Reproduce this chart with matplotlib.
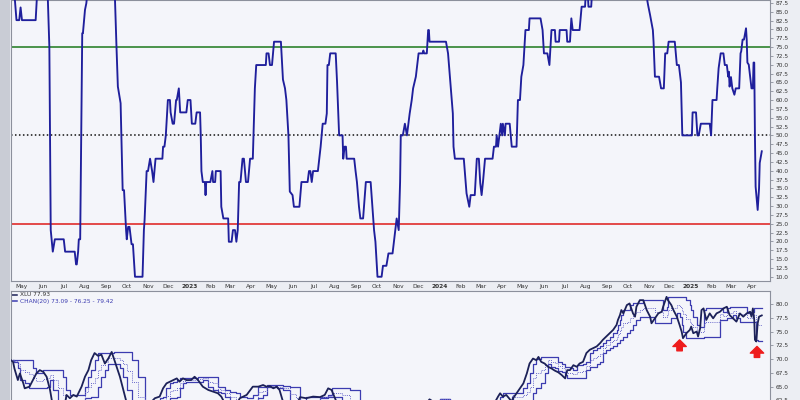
import matplotlib
matplotlib.use('Agg')
import matplotlib.pyplot as plt
import numpy as np
import pandas as pd
from matplotlib.patches import Rectangle
from matplotlib.ticker import FormatStrFormatter

# top panel: % indicator (>88 are clipped at top)
top_dates = [
    '2022-04-20', '2022-04-23', '2022-04-27', '2022-04-29', '2022-05-01', '2022-05-21', '2022-05-24', '2022-06-07',
    '2022-06-10', '2022-06-11', '2022-06-12', '2022-06-15', '2022-06-18', '2022-07-01', '2022-07-03', '2022-07-17',
    '2022-07-19', '2022-07-20', '2022-07-22', '2022-07-23', '2022-07-25', '2022-07-28', '2022-07-29', '2022-08-01',
    '2022-08-03', '2022-08-06', '2022-09-13', '2022-09-16', '2022-09-18', '2022-09-22', '2022-09-25', '2022-09-27',
    '2022-09-30', '2022-10-01', '2022-10-03', '2022-10-05', '2022-10-08', '2022-10-10', '2022-10-13', '2022-10-24',
    '2022-10-26', '2022-10-27', '2022-10-30', '2022-11-01', '2022-11-04', '2022-11-07', '2022-11-09', '2022-11-12',
    '2022-11-22', '2022-11-23', '2022-11-25', '2022-11-27', '2022-11-30', '2022-12-03', '2022-12-04', '2022-12-07',
    '2022-12-09', '2022-12-12', '2022-12-13', '2022-12-16', '2022-12-18', '2022-12-27', '2022-12-29', '2023-01-02',
    '2023-01-04', '2023-01-09', '2023-01-11', '2023-01-16', '2023-01-17', '2023-01-18', '2023-01-20', '2023-01-23',
    '2023-01-24', '2023-01-25', '2023-01-31', '2023-02-03', '2023-02-04', '2023-02-07', '2023-02-08', '2023-02-15',
    '2023-02-16', '2023-02-19', '2023-02-26', '2023-02-27', '2023-03-03', '2023-03-05', '2023-03-08', '2023-03-10',
    '2023-03-12', '2023-03-14', '2023-03-16', '2023-03-19', '2023-03-21', '2023-03-24', '2023-03-27', '2023-03-30',
    '2023-04-03', '2023-04-04', '2023-04-06', '2023-04-08', '2023-04-22', '2023-04-23', '2023-04-26', '2023-04-28',
    '2023-05-01', '2023-05-04', '2023-05-14', '2023-05-17', '2023-05-20', '2023-05-22', '2023-05-25', '2023-05-27',
    '2023-05-31', '2023-06-02', '2023-06-10', '2023-06-13', '2023-06-22', '2023-06-24', '2023-06-26', '2023-06-28',
    '2023-06-30', '2023-07-07', '2023-07-09', '2023-07-11', '2023-07-14', '2023-07-18', '2023-07-20', '2023-07-21',
    '2023-07-23', '2023-07-25', '2023-08-02', '2023-08-04', '2023-08-07', '2023-08-12', '2023-08-13', '2023-08-15',
    '2023-08-17', '2023-08-18', '2023-08-29', '2023-08-31', '2023-09-02', '2023-09-05', '2023-09-07', '2023-09-11',
    '2023-09-15', '2023-09-22', '2023-09-24', '2023-09-27', '2023-09-29', '2023-10-02', '2023-10-08', '2023-10-10',
    '2023-10-15', '2023-10-18', '2023-10-24', '2023-10-26', '2023-10-28', '2023-10-30', '2023-11-02', '2023-11-04',
    '2023-11-05', '2023-11-08', '2023-11-11', '2023-11-14', '2023-11-18', '2023-11-21', '2023-11-23', '2023-11-27',
    '2023-11-29', '2023-12-01', '2023-12-07', '2023-12-08', '2023-12-09', '2023-12-13', '2023-12-15', '2023-12-16',
    '2023-12-17', '2024-01-10', '2024-01-13', '2024-01-17', '2024-01-20', '2024-01-21', '2024-01-23', '2024-02-05',
    '2024-02-09', '2024-02-13', '2024-02-15', '2024-02-21', '2024-02-24', '2024-02-27', '2024-02-29', '2024-03-02',
    '2024-03-04', '2024-03-07', '2024-03-18', '2024-03-20', '2024-03-23', '2024-03-24', '2024-03-26', '2024-03-28',
    '2024-03-30', '2024-04-01', '2024-04-02', '2024-04-05', '2024-04-06', '2024-04-12', '2024-04-15', '2024-04-22',
    '2024-04-24', '2024-04-27', '2024-04-29', '2024-05-02', '2024-05-05', '2024-05-10', '2024-05-11', '2024-05-27',
    '2024-05-30', '2024-06-01', '2024-06-06', '2024-06-09', '2024-06-12', '2024-06-17', '2024-06-18', '2024-06-23',
    '2024-06-24', '2024-07-04', '2024-07-05', '2024-07-09', '2024-07-11', '2024-07-13', '2024-07-23', '2024-07-26',
    '2024-07-31', '2024-08-01', '2024-08-04', '2024-08-05', '2024-08-09', '2024-08-11', '2024-10-28', '2024-10-30',
    '2024-10-31', '2024-11-03', '2024-11-07', '2024-11-08', '2024-11-10', '2024-11-16', '2024-11-19', '2024-11-23',
    '2024-11-25', '2024-11-28', '2024-11-30', '2024-12-09', '2024-12-12', '2024-12-15', '2024-12-18', '2024-12-20',
    '2025-01-03', '2025-01-04', '2025-01-09', '2025-01-11', '2025-01-13', '2025-01-16', '2025-01-29', '2025-01-31',
    '2025-02-02', '2025-02-08', '2025-02-09', '2025-02-11', '2025-02-14', '2025-02-18', '2025-02-20', '2025-02-23',
    '2025-02-25', '2025-02-26', '2025-02-27', '2025-03-01', '2025-03-03', '2025-03-06', '2025-03-08', '2025-03-13',
    '2025-03-15', '2025-03-16', '2025-03-18', '2025-03-20', '2025-03-23', '2025-03-24', '2025-03-25', '2025-03-27',
    '2025-03-29', '2025-03-31', '2025-04-02', '2025-04-03', '2025-04-04', '2025-04-05', '2025-04-06', '2025-04-09',
    '2025-04-11', '2025-04-12', '2025-04-15',
]
top_vals = [
    90.0, 82.6, 82.6, 86.2, 82.6, 82.6, 93.3, 93.3,
    75.0, 50.6, 23.2, 17.1, 20.6, 20.6, 17.1, 17.1,
    13.5, 13.5, 17.1, 20.6, 20.6, 78.9, 78.9, 85.5,
    87.4, 93.3, 93.3, 75.0, 63.8, 59.1, 34.5, 34.5,
    23.2, 20.6, 24.1, 24.1, 19.2, 19.2, 10.0, 10.0,
    23.2, 26.0, 39.9, 39.9, 43.4, 39.9, 36.8, 43.4,
    43.4, 46.8, 46.8, 50.0, 60.0, 60.0, 56.5, 53.3,
    53.3, 60.0, 60.0, 63.3, 56.5, 56.5, 60.0, 60.0,
    53.3, 53.3, 56.5, 56.5, 50.0, 39.9, 36.8, 36.8,
    33.1, 36.8, 36.8, 39.9, 36.8, 36.8, 39.9, 39.9,
    29.8, 26.5, 26.5, 19.9, 19.9, 23.2, 23.2, 19.9,
    23.2, 36.8, 36.8, 43.4, 43.4, 36.8, 36.8, 43.4,
    43.4, 50.0, 63.3, 69.9, 69.9, 73.2, 73.2, 69.9,
    69.9, 76.5, 76.5, 65.8, 63.3, 60.0, 50.0, 34.1,
    33.1, 29.8, 29.8, 36.8, 36.8, 39.9, 39.9, 36.8,
    39.9, 39.9, 43.4, 46.8, 53.3, 53.3, 56.2, 69.9,
    69.9, 73.2, 73.2, 65.0, 50.0, 50.0, 43.4, 46.8,
    46.8, 43.4, 43.4, 39.9, 36.8, 29.8, 26.5, 26.5,
    36.8, 36.8, 31.5, 23.2, 19.9, 10.0, 10.0, 13.1,
    13.1, 16.6, 16.6, 19.9, 23.2, 26.5, 23.2, 36.8,
    50.0, 50.0, 53.3, 50.0, 56.2, 60.0, 63.3, 66.6,
    69.9, 73.2, 73.2, 74.0, 73.2, 73.2, 79.8, 79.8,
    76.5, 76.5, 73.2, 63.3, 56.2, 46.8, 43.4, 43.4,
    33.6, 29.8, 33.1, 33.1, 43.4, 43.4, 36.5, 33.1,
    36.8, 43.4, 43.4, 46.8, 46.8, 50.0, 46.8, 50.0,
    53.3, 50.0, 53.3, 50.0, 53.3, 53.3, 46.8, 46.8,
    60.0, 60.0, 66.6, 69.9, 79.8, 79.8, 83.1, 83.1,
    79.8, 73.2, 73.2, 69.9, 79.8, 79.8, 76.5, 76.5,
    79.8, 79.8, 76.5, 76.5, 83.1, 79.8, 79.8, 86.4,
    86.4, 90.0, 90.0, 86.4, 86.4, 93.3, 93.3, 88.0,
    86.9, 84.0, 79.8, 76.5, 66.6, 66.6, 63.3, 63.3,
    73.2, 73.2, 76.5, 76.5, 69.9, 69.9, 65.0, 50.0,
    50.0, 56.5, 56.5, 50.0, 50.0, 53.3, 53.3, 50.0,
    60.0, 60.0, 63.3, 69.0, 73.2, 73.2, 69.9, 69.9,
    66.6, 68.0, 63.8, 66.5, 63.3, 61.5, 63.3, 63.3,
    73.2, 73.8, 77.1, 77.1, 80.3, 77.1, 70.6, 70.0,
    66.6, 63.3, 63.3, 70.6, 70.6, 50.0, 35.5, 28.9,
    35.0, 42.2, 45.5,
]

# bottom panel: XLU close (values below ~62.5 fall outside the visible strip)
xlu_dates = [
    '2022-04-15', '2022-04-18', '2022-04-20', '2022-04-25', '2022-04-28', '2022-05-03', '2022-05-05', '2022-05-12',
    '2022-05-17', '2022-05-22', '2022-05-27', '2022-06-01', '2022-06-06', '2022-06-11', '2022-06-15', '2022-06-22',
    '2022-06-30', '2022-07-05', '2022-07-10', '2022-07-15', '2022-07-20', '2022-07-27', '2022-08-01', '2022-08-06',
    '2022-08-10', '2022-08-15', '2022-08-20', '2022-08-25', '2022-08-30', '2022-09-04', '2022-09-09', '2022-09-13',
    '2022-09-17', '2022-09-21', '2022-09-26', '2022-10-01', '2022-10-08', '2022-10-17', '2022-10-27', '2022-11-04',
    '2022-11-11', '2022-11-18', '2022-11-23', '2022-11-28', '2022-12-03', '2022-12-08', '2022-12-13', '2022-12-17',
    '2022-12-22', '2022-12-27', '2023-01-03', '2023-01-08', '2023-01-13', '2023-01-20', '2023-01-28', '2023-02-04',
    '2023-02-11', '2023-02-16', '2023-02-21', '2023-02-28', '2023-03-09', '2023-03-15', '2023-03-25', '2023-04-03',
    '2023-04-11', '2023-04-18', '2023-04-23', '2023-04-28', '2023-05-03', '2023-05-08', '2023-05-12', '2023-05-17',
    '2023-05-27', '2023-06-05', '2023-06-11', '2023-06-20', '2023-06-30', '2023-07-10', '2023-07-17', '2023-07-22',
    '2023-07-27', '2023-07-29', '2023-08-03', '2023-08-11', '2023-08-23', '2023-09-06', '2023-09-21', '2023-10-03',
    '2023-10-20', '2023-11-04', '2023-11-18', '2023-12-03', '2023-12-17', '2024-01-01', '2024-01-16', '2024-01-30',
    '2024-02-14', '2024-02-28', '2024-03-14', '2024-03-26', '2024-03-29', '2024-04-02', '2024-04-07', '2024-04-15',
    '2024-04-17', '2024-04-22', '2024-04-27', '2024-05-02', '2024-05-07', '2024-05-11', '2024-05-16', '2024-05-21',
    '2024-05-24', '2024-05-28', '2024-06-02', '2024-06-07', '2024-06-12', '2024-06-17', '2024-06-22', '2024-06-27',
    '2024-07-02', '2024-07-05', '2024-07-09', '2024-07-14', '2024-07-19', '2024-07-23', '2024-07-28', '2024-08-02',
    '2024-08-07', '2024-08-12', '2024-08-17', '2024-08-22', '2024-08-26', '2024-08-31', '2024-09-05', '2024-09-10',
    '2024-09-15', '2024-09-17', '2024-09-20', '2024-09-22', '2024-09-25', '2024-09-30', '2024-10-04', '2024-10-09',
    '2024-10-12', '2024-10-14', '2024-10-19', '2024-10-24', '2024-10-29', '2024-11-03', '2024-11-05', '2024-11-10',
    '2024-11-15', '2024-11-20', '2024-11-22', '2024-11-27', '2024-11-29', '2024-12-04', '2024-12-07', '2024-12-12',
    '2024-12-16', '2024-12-19', '2024-12-21', '2024-12-26', '2024-12-31', '2025-01-02', '2025-01-05', '2025-01-10',
    '2025-01-12', '2025-01-15', '2025-01-17', '2025-01-20', '2025-01-24', '2025-01-29', '2025-02-03', '2025-02-08',
    '2025-02-13', '2025-02-18', '2025-02-23', '2025-02-27', '2025-03-04', '2025-03-09', '2025-03-14', '2025-03-19',
    '2025-03-24', '2025-03-29', '2025-03-31', '2025-04-02', '2025-04-04', '2025-04-05', '2025-04-07', '2025-04-09',
    '2025-04-11', '2025-04-15',
]
xlu_vals = [
    69.8, 69.5, 68.3, 66.2, 67.4, 65.6, 64.7, 65.0,
    66.2, 67.4, 68.0, 67.7, 66.8, 64.4, 61.5, 60.0,
    59.8, 63.5, 62.9, 63.5, 63.2, 65.0, 66.8, 68.0,
    69.8, 71.1, 70.6, 70.8, 69.2, 70.1, 71.3, 69.8,
    68.3, 66.8, 64.4, 62.0, 59.5, 57.5, 60.5, 62.0,
    62.9, 63.2, 64.7, 65.6, 65.9, 66.2, 66.5, 65.9,
    66.5, 66.2, 66.2, 66.8, 66.2, 65.0, 64.4, 64.1,
    63.8, 63.2, 62.0, 61.0, 61.5, 62.9, 63.5, 65.0,
    65.0, 65.3, 65.0, 65.1, 64.7, 65.0, 64.4, 62.3,
    61.0, 61.5, 63.1, 62.9, 63.2, 63.1, 63.5, 64.7,
    64.4, 63.8, 62.3, 60.5, 59.0, 57.0, 55.5, 54.0,
    55.0, 57.5, 59.0, 60.5, 62.7, 61.5, 60.5, 59.5,
    58.5, 59.5, 60.5, 63.2, 63.8, 63.2, 63.5, 62.3,
    62.9, 63.8, 64.7, 65.6, 67.4, 69.2, 70.1, 69.8,
    70.4, 69.5, 69.2, 68.6, 68.3, 67.9, 67.6, 67.1,
    66.5, 68.0, 68.0, 68.9, 68.6, 69.2, 69.5, 71.1,
    71.7, 72.0, 72.3, 72.9, 73.5, 74.1, 74.7, 75.3,
    76.2, 77.1, 78.0, 78.9, 78.3, 79.8, 80.1, 78.3,
    77.7, 79.5, 80.7, 80.7, 78.9, 77.7, 76.5, 77.4,
    78.3, 78.6, 79.5, 81.3, 80.7, 79.8, 78.9, 77.7,
    76.2, 75.0, 73.8, 74.7, 75.3, 75.9, 74.7, 75.0,
    74.1, 75.6, 78.9, 79.2, 77.1, 78.3, 77.4, 78.3,
    78.6, 79.2, 79.5, 78.0, 77.4, 76.8, 78.3, 77.7,
    78.3, 78.6, 77.7, 79.2, 77.1, 73.5, 73.2, 76.5,
    77.7, 77.93,
]

arrow_dates = ['2024-12-16', '2025-04-08']
arrow_vals = [73.5, 72.3]

levels = [75, 50, 25]
level_colors = ['#3d8b3d', '#111111', '#e23b3b']
level_styles = ['-', (0, (1, 1.6)), '-']

top = pd.Series(top_vals, index=pd.to_datetime(top_dates))
xlu = pd.Series(xlu_vals, index=pd.to_datetime(xlu_dates))
# CHAN(20): prior 20 sessions high / low, roughly 28 calendar days
upper = xlu.rolling('28D', closed='left').max()
lower = xlu.rolling('28D', closed='left').min()
mid = (upper + lower) / 2

x0, x1 = pd.Timestamp('2022-04-15'), pd.Timestamp('2025-04-27')
bg = '#f4f5fa'

fig = plt.figure(figsize=(8, 4), dpi=100)
fig.patch.set_facecolor('#eceef3')
fig.patches.append(Rectangle((0, 0), 10 / 800, 1, transform=fig.transFigure,
                             facecolor='#c9ccd5', edgecolor='none', zorder=0))

ax1 = fig.add_axes([11 / 800, 1 - 281 / 400, 759 / 800, 281 / 400])
ax2 = fig.add_axes([11 / 800, -20 / 400, 759 / 800, 129 / 400])

for ax in (ax1, ax2):
    ax.set_facecolor(bg)
    ax.set_xlim(x0, x1)
    for s in ax.spines.values():
        s.set_color('#8c909c')
        s.set_linewidth(0.8)
    ax.yaxis.tick_right()
    ax.yaxis.set_major_formatter(FormatStrFormatter('%.1f'))
    ax.tick_params(axis='y', labelsize=4.2, length=2.5, width=0.6, pad=1.5,
                   colors='#8c909c', labelcolor='#333333')

# top panel
for lv, c, ls in zip(levels, level_colors, level_styles):
    ax1.axhline(lv, color=c, lw=1.3 if ls == '-' else 1.1, ls=ls, zorder=2)
ax1.plot(top.index, top.values, color='#1f1f9c', lw=1.35, zorder=3)
ax1.set_ylim(8.8, 88.3)
ax1.set_yticks(np.arange(10, 88, 2.5))

months = pd.date_range('2022-05-01', '2025-04-01', freq='MS')
mlabels = [d.strftime('%Y') if d.month == 1 else d.strftime('%b') for d in months]
ax1.set_xticks(months)
ax1.set_xticklabels(mlabels, fontsize=4.2, color='#333333')
for lbl, d in zip(ax1.get_xticklabels(), months):
    if d.month == 1:
        lbl.set_fontweight('bold')
ax1.tick_params(axis='x', length=0, pad=2.2)

# bottom panel
ax2.plot(upper.index, upper.values, color='#3c3cb0', lw=0.9, drawstyle='steps-post', zorder=2)
ax2.plot(lower.index, lower.values, color='#3c3cb0', lw=0.9, drawstyle='steps-post', zorder=2)
ax2.plot(mid.index, mid.values, color='#6a6acc', lw=0.7, ls=(0, (1, 1.2)), drawstyle='steps-post', zorder=2)
ax2.plot(xlu.index, xlu.values, color='#1c2158', lw=1.3, zorder=3)
ax2.set_ylim(58.95, 82.36)
ax2.set_yticks(np.arange(62.5, 82.5, 2.5))
ax2.set_xticks(months)
ax2.set_xticklabels([])
ax2.tick_params(axis='x', length=0)

for d, v in zip(arrow_dates, arrow_vals):
    ax2.annotate('', xy=(pd.Timestamp(d), v), xytext=(0, -11), textcoords='offset pixels',
                 arrowprops=dict(arrowstyle='simple,head_length=0.8,head_width=1.6,tail_width=0.65',
                                 color='#ee1c1c', shrinkA=0, shrinkB=0, mutation_scale=6), zorder=4)

ax2.plot([0.0012, 0.0085], [0.969, 0.969], transform=ax2.transAxes, color='#1c2158', lw=1.1)
ax2.text(0.0115, 0.969, 'XLU 77.93', transform=ax2.transAxes, fontsize=4.2, va='center', color='#333333')
ax2.plot([0.0012, 0.0085], [0.919, 0.919], transform=ax2.transAxes, color='#3c3cb0', lw=1.1)
ax2.text(0.0115, 0.919, 'CHAN(20) 73.09 - 76.25 - 79.42', transform=ax2.transAxes, fontsize=4.2,
         va='center', color='#3c3cb0')

fig.savefig('out.png', dpi=100, facecolor=fig.get_facecolor())
